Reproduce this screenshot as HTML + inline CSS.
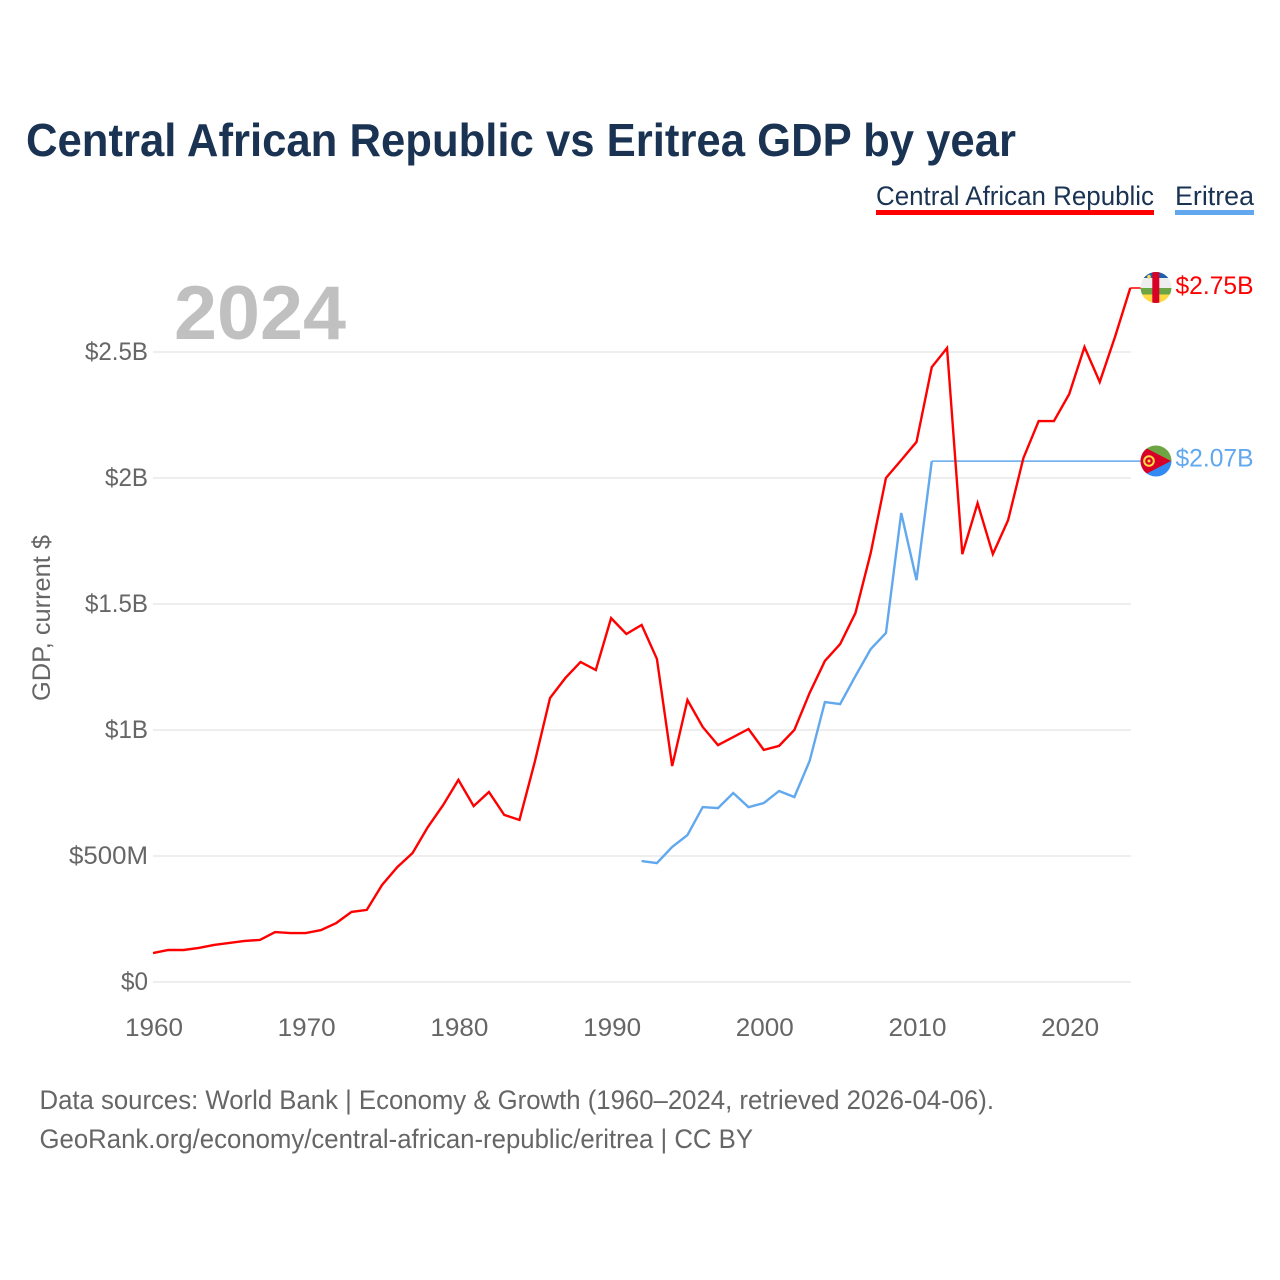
<!DOCTYPE html>
<html lang="en">
<head>
<meta charset="utf-8">
<title>Central African Republic vs Eritrea GDP by year</title>
<style>
html,body{margin:0;padding:0;background:#fff;width:1280px;height:1280px;overflow:hidden}
svg{display:block;font-family:"Liberation Sans",sans-serif}
</style>
</head>
<body>
<svg id="chart" width="1280" height="1280" viewBox="0 0 1280 1280" xmlns="http://www.w3.org/2000/svg">
  <defs>
    <clipPath id="clip-car"><circle cx="1156" cy="287.5" r="15.5"/></clipPath>
    <clipPath id="clip-eri"><circle cx="1156" cy="461" r="15.5"/></clipPath>
  </defs>
  <rect width="1280" height="1280" fill="#fff"/>
  <text x="26" y="156" font-size="46" font-weight="700" fill="#1a3353" textLength="990" lengthAdjust="spacingAndGlyphs">Central African Republic vs Eritrea GDP by year</text>

  <g>
    <g>
      <text x="876" y="205" font-size="27" fill="#1a3353" textLength="278" lengthAdjust="spacingAndGlyphs">Central African Republic</text>
      <rect x="876" y="210" width="278" height="5" fill="#ff0000"/>
    </g>
    <g>
      <text x="1175" y="205" font-size="27" fill="#1a3353" textLength="79" lengthAdjust="spacingAndGlyphs">Eritrea</text>
      <rect x="1175" y="210" width="79" height="5" fill="#61a8ee"/>
    </g>
  </g>

  <g id="grid"></g>
  <text x="174" y="339" font-size="76" font-weight="700" fill="#c0c0c0" textLength="172" lengthAdjust="spacingAndGlyphs">2024</text>
  <g id="yticks"></g>
  <g id="xticks"></g>
  <text transform="translate(50 701) rotate(-90)" font-size="25" fill="#666" textLength="166" lengthAdjust="spacingAndGlyphs">GDP, current $</text>
  <g id="series"></g>

  <g clip-path="url(#clip-car)">
    <rect x="1140" y="272" width="32" height="6" fill="#1f5fb0"/>
    <rect x="1140" y="278" width="32" height="10" fill="#eeeeee"/>
    <rect x="1140" y="288" width="32" height="6.5" fill="#6da544"/>
    <rect x="1140" y="294.5" width="32" height="9" fill="#ffda44"/>
    <rect x="1152.3" y="272" width="7" height="32" fill="#d80027"/>
    <circle cx="1149" cy="276.7" r="1.8" fill="#ffda44"/>
  </g>
  <g clip-path="url(#clip-eri)">
    <rect x="1140" y="445" width="32" height="16" fill="#6da544"/>
    <rect x="1140" y="461" width="32" height="16" fill="#338af3"/>
    <polygon points="1140,445 1171,461 1140,477" fill="#d80027"/>
    <circle cx="1149" cy="461" r="4.8" fill="none" stroke="#ffda44" stroke-width="2"/>
    <circle cx="1149" cy="461" r="1.5" fill="#ffda44"/>
  </g>

  <g id="endlabels"></g>

  <text x="39.5" y="1109" font-size="27" fill="#666" textLength="954.5" lengthAdjust="spacingAndGlyphs">Data sources: World Bank | Economy &amp; Growth (1960–2024, retrieved 2026-04-06).</text>
  <text x="39.5" y="1148" font-size="27" fill="#666" textLength="713.5" lengthAdjust="spacingAndGlyphs">GeoRank.org/economy/central-african-republic/eritrea | CC BY</text>
</svg>
<script>
const startYearCar = 1960;
const gdpCar = [0.115,0.127,0.127,0.135,0.147,0.155,0.163,0.167,0.198,0.194,0.194,0.206,0.234,0.278,0.286,0.385,0.456,0.512,0.615,0.702,0.802,0.698,0.754,0.663,0.643,0.873,1.127,1.206,1.27,1.238,1.444,1.381,1.417,1.282,0.857,1.119,1.012,0.94,0.972,1.004,0.921,0.937,1.0,1.147,1.274,1.341,1.464,1.702,2.0,2.071,2.143,2.44,2.516,1.698,1.9,1.698,1.833,2.079,2.226,2.226,2.333,2.52,2.381,2.56,2.754];
const startYearEri = 1992;
const gdpEri = [0.48,0.472,0.536,0.583,0.694,0.69,0.75,0.694,0.71,0.758,0.734,0.877,1.111,1.103,1.214,1.321,1.385,1.861,1.595,2.067];
const yTickValues = [0,0.5,1,1.5,2,2.5];
const yTickLabels = ["$0","$500M","$1B","$1.5B","$2B","$2.5B"];
const xTickValues = [1960,1970,1980,1990,2000,2010,2020];
const endValueCar = 2.75;
const endValueEri = 2.07;
const endLabelCar = "$2.75B";
const endLabelEri = "$2.07B";

const NS = "http://www.w3.org/2000/svg";
const xScale = year => 153 + (year - 1960) * 15.27;
const yScale = value => 982 - value * 252;
const tickLabelWidth = label => label.length === 2 ? 27 : label.length === 3 ? 43 : label.length === 5 && label.endsWith("M") ? 79 : 63;

function linePath(values, startYear) {
  return values.map((v, i) => (i ? "L" : "M") + xScale(startYear + i).toFixed(2) + " " + yScale(v).toFixed(2)).join(" ");
}

const grid = document.getElementById("grid");
const yticks = document.getElementById("yticks");
yTickValues.forEach((v, i) => {
  const gl = document.createElementNS(NS, "line");
  
  
  gl.setAttribute("x1", xScale(1960));
  gl.setAttribute("x2", 1131);
  gl.setAttribute("y1", yScale(v));
  gl.setAttribute("y2", yScale(v));
  gl.setAttribute("stroke", "#eeeeee");
  gl.setAttribute("stroke-width", "2");
  grid.appendChild(gl);

  const t = document.createElementNS(NS, "text");
  
  
  t.setAttribute("x", 148 - tickLabelWidth(yTickLabels[i]));
  t.setAttribute("y", yScale(v) + 8);
  t.setAttribute("font-size", "25");
  t.setAttribute("fill", "#666");
  t.setAttribute("textLength", tickLabelWidth(yTickLabels[i]));
  t.setAttribute("lengthAdjust", "spacingAndGlyphs");
  t.textContent = yTickLabels[i];
  yticks.appendChild(t);
});

const xticks = document.getElementById("xticks");
xTickValues.forEach(year => {
  const t = document.createElementNS(NS, "text");
  
  
  t.setAttribute("x", xScale(year) - 28);
  t.setAttribute("y", 1036);
  t.setAttribute("font-size", "25");
  t.setAttribute("fill", "#666");
  t.setAttribute("textLength", "58");
  t.setAttribute("lengthAdjust", "spacingAndGlyphs");
  t.textContent = String(year);
  xticks.appendChild(t);
});

const series = document.getElementById("series");

const connEri = document.createElementNS(NS, "line");


connEri.setAttribute("x1", xScale(startYearEri + gdpEri.length - 1));
connEri.setAttribute("x2", 1142);
connEri.setAttribute("y1", yScale(gdpEri[gdpEri.length - 1]));
connEri.setAttribute("y2", yScale(gdpEri[gdpEri.length - 1]));
connEri.setAttribute("stroke", "#61a8ee");
connEri.setAttribute("stroke-width", "1.5");
series.appendChild(connEri);

const lineEri = document.createElementNS(NS, "path");


lineEri.setAttribute("d", linePath(gdpEri, startYearEri));
lineEri.setAttribute("fill", "none");
lineEri.setAttribute("stroke", "#61a8ee");
lineEri.setAttribute("stroke-width", "2.4");
lineEri.setAttribute("stroke-linejoin", "miter");
series.appendChild(lineEri);

const lineCar = document.createElementNS(NS, "path");


lineCar.setAttribute("d", linePath(gdpCar, startYearCar));
lineCar.setAttribute("fill", "none");
lineCar.setAttribute("stroke", "#ff0000");
lineCar.setAttribute("stroke-width", "2.4");
lineCar.setAttribute("stroke-linejoin", "miter");
series.appendChild(lineCar);

const connCar = document.createElementNS(NS, "line");


connCar.setAttribute("x1", xScale(startYearCar + gdpCar.length - 1));
connCar.setAttribute("x2", 1141);
connCar.setAttribute("y1", yScale(gdpCar[gdpCar.length - 1]));
connCar.setAttribute("y2", yScale(gdpCar[gdpCar.length - 1]));
connCar.setAttribute("stroke", "#ff0000");
connCar.setAttribute("stroke-width", "1.5");
series.appendChild(connCar);

const endlabels = document.getElementById("endlabels");

const labelCar = document.createElementNS(NS, "text");


labelCar.setAttribute("x", 1175.5);
labelCar.setAttribute("y", yScale(endValueCar) + 5);
labelCar.setAttribute("font-size", "25");
labelCar.setAttribute("fill", "#ff0000");
labelCar.setAttribute("textLength", "78");
labelCar.setAttribute("lengthAdjust", "spacingAndGlyphs");
labelCar.textContent = endLabelCar;
endlabels.appendChild(labelCar);

const labelEri = document.createElementNS(NS, "text");


labelEri.setAttribute("x", 1175.5);
labelEri.setAttribute("y", yScale(endValueEri) + 6);
labelEri.setAttribute("font-size", "25");
labelEri.setAttribute("fill", "#61a8ee");
labelEri.setAttribute("textLength", "78");
labelEri.setAttribute("lengthAdjust", "spacingAndGlyphs");
labelEri.textContent = endLabelEri;
endlabels.appendChild(labelEri);
</script>
</body>
</html>
